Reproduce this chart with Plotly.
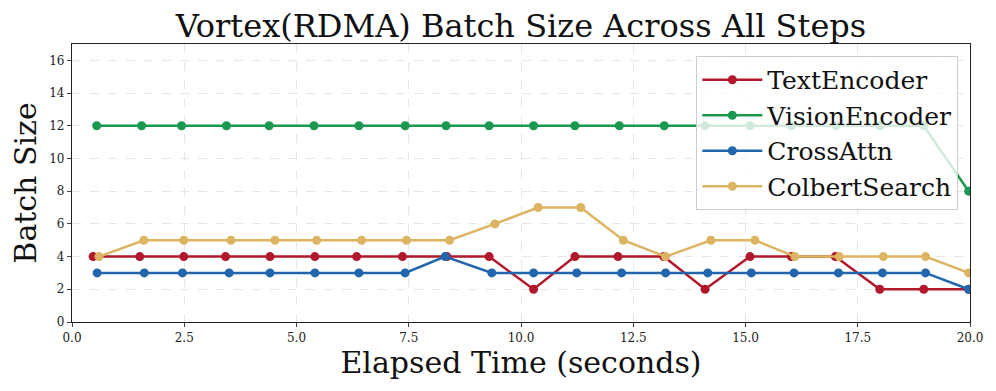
import plotly.graph_objects as go

# batch sizes per step
text_t = [0.47, 1.51, 2.49, 3.42, 4.41, 5.41, 6.34, 7.36, 8.35, 9.29, 10.28,
          11.2, 12.16, 13.18, 14.1, 15.1, 16.02, 17.0, 17.99, 18.97, 19.97]
text_bs = [4, 4, 4, 4, 4, 4, 4, 4, 4, 4, 2, 4, 4, 4, 2, 4, 4, 4, 2, 2, 2]

vision_t = [0.55, 1.55, 2.44, 3.44, 4.39, 5.39, 6.39, 7.42, 8.33, 9.29, 10.28,
            11.2, 12.19, 13.19, 14.1, 15.1, 16.02, 17.02, 18.0, 18.97, 19.97]
vision_bs = [12, 12, 12, 12, 12, 12, 12, 12, 12, 12, 12, 12, 12, 12, 12, 12, 12, 12, 12, 12, 8]

cross_t = [0.56, 1.61, 2.46, 3.5, 4.41, 5.41, 6.39, 7.42, 8.31, 9.35, 10.28,
           11.24, 12.24, 13.22, 14.16, 15.13, 16.08, 17.07, 18.05, 19.01, 19.97]
cross_bs = [3, 3, 3, 3, 3, 3, 3, 3, 4, 3, 3, 3, 3, 3, 3, 3, 3, 3, 3, 3, 2]

colbert_t = [0.6, 1.6, 2.49, 3.54, 4.52, 5.45, 6.45, 7.45, 8.41, 9.42, 10.38,
             11.33, 12.28, 13.22, 14.23, 15.21, 16.1, 17.09, 18.07, 19.01, 19.97]
colbert_bs = [4, 5, 5, 5, 5, 5, 5, 5, 5, 6, 7, 7, 5, 4, 5, 5, 4, 4, 4, 4, 3]

series = [
    ("TextEncoder", text_t, text_bs, "#b2182b"),
    ("VisionEncoder", vision_t, vision_bs, "#1a9850"),
    ("CrossAttn", cross_t, cross_bs, "#2166ac"),
    ("ColbertSearch", colbert_t, colbert_bs, "#ddb562"),
]

serif = "DejaVu Serif"

fig = go.Figure()
for name, t, bs, col in series:
    fig.add_trace(go.Scatter(x=t, y=bs, name=name, mode="lines+markers",
                             legendgroup=name,
                             line=dict(color=col, width=2.5),
                             marker=dict(color=col, size=9)))

axis_style = dict(showline=True, linecolor="#222", linewidth=1.3, mirror=True,
                  ticks="outside", ticklen=4, tickcolor="#444", automargin=False,
                  showgrid=True, gridcolor="#e6e6e6", griddash="dash", gridwidth=0.8,
                  zeroline=False, tickfont=dict(family=serif, size=12, color="#222"))

fig.update_xaxes(range=[0, 20], dtick=2.5, tickformat=".1f",
                 title=dict(text="Elapsed Time (seconds)", font=dict(family=serif, size=30, color="#111"),
                            standoff=4),
                 **axis_style)
fig.update_yaxes(range=[0, 17], dtick=2,
                 title=dict(text="Batch Size", font=dict(family=serif, size=30, color="#111"),
                            standoff=6),
                 **axis_style)

# page body adds an 8px offset, so margins are shifted to compensate
fig.update_layout(
    width=996, height=391,
    margin=dict(l=64, r=34, t=36, b=77),
    plot_bgcolor="white", paper_bgcolor="white",
    title=dict(text="Vortex(RDMA) Batch Size Across All Steps", x=0.515, xanchor="center",
               y=0.955, yanchor="middle", automargin=False,
               font=dict(family=serif, size=32, color="#111")),
    legend=dict(x=0.987, y=0.957, xanchor="right", yanchor="top", traceorder="grouped",
                bgcolor="rgba(255,255,255,0.8)", bordercolor="#cccccc", borderwidth=1,
                itemwidth=60,
                font=dict(family=serif, size=25, color="#111"), tracegroupgap=0),
)

fig.write_html("out.html")
